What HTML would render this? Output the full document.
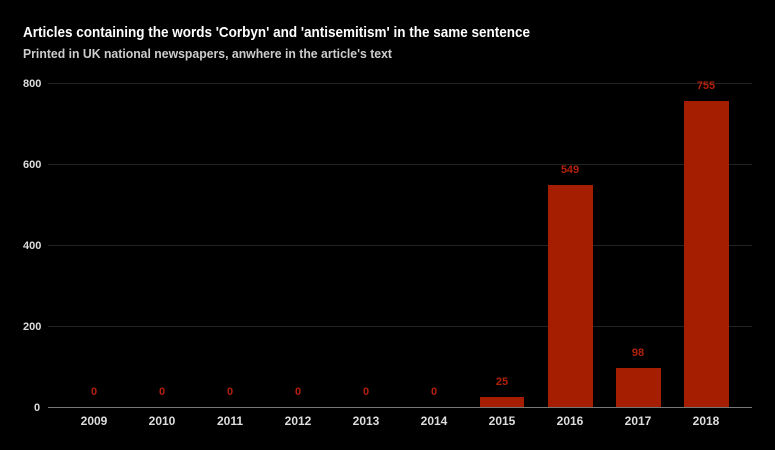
<!DOCTYPE html>
<html><head><meta charset="utf-8"><style>
body{margin:0;background:#000;}
</style></head><body>
<svg width="775" height="450" xmlns="http://www.w3.org/2000/svg" style="display:block;font-family:'Liberation Sans',sans-serif">
<rect width="775" height="450" fill="#000"/>
<text x="23" y="37" fill="#fff" font-size="15" font-weight="bold" textLength="507" lengthAdjust="spacingAndGlyphs">Articles containing the words 'Corbyn' and 'antisemitism' in the same sentence</text>
<text x="23" y="58" fill="#ccc" font-size="13" font-weight="bold" textLength="369" lengthAdjust="spacingAndGlyphs">Printed in UK national newspapers, anwhere in the article's text</text>
<g stroke="#222" stroke-width="1">
<line x1="48" x2="752" y1="83.5" y2="83.5"/>
<line x1="48" x2="752" y1="164.5" y2="164.5"/>
<line x1="48" x2="752" y1="245.5" y2="245.5"/>
<line x1="48" x2="752" y1="326.5" y2="326.5"/>
</g>
<g fill="#ddd" font-size="11" font-weight="bold">
<text x="23" y="87">800</text>
<text x="23" y="168">600</text>
<text x="23" y="249">400</text>
<text x="23" y="330">200</text>
<text x="34" y="411">0</text>
</g>
<g fill="#a51e02">
<rect x="480" y="397" width="44" height="10.5"/>
<rect x="548" y="185" width="45" height="222.5"/>
<rect x="616" y="368" width="45" height="39.5"/>
<rect x="684" y="101" width="45" height="306.5"/>
</g>
<line x1="48" x2="752" y1="407.5" y2="407.5" stroke="#777" stroke-width="1"/>
<g fill="#b3200a" font-size="11" font-weight="bold" text-anchor="middle">
<text x="94" y="395">0</text><text x="162" y="395">0</text><text x="230" y="395">0</text>
<text x="298" y="395">0</text><text x="366" y="395">0</text><text x="434" y="395">0</text>
<text x="502" y="385">25</text><text x="570" y="173">549</text>
<text x="638" y="356">98</text><text x="706" y="89">755</text>
</g>
<g fill="#ddd" font-size="12" font-weight="bold" text-anchor="middle">
<text x="94" y="425">2009</text><text x="162" y="425">2010</text><text x="230" y="425">2011</text>
<text x="298" y="425">2012</text><text x="366" y="425">2013</text><text x="434" y="425">2014</text>
<text x="502" y="425">2015</text><text x="570" y="425">2016</text><text x="638" y="425">2017</text>
<text x="706" y="425">2018</text>
</g>
</svg>
</body></html>
